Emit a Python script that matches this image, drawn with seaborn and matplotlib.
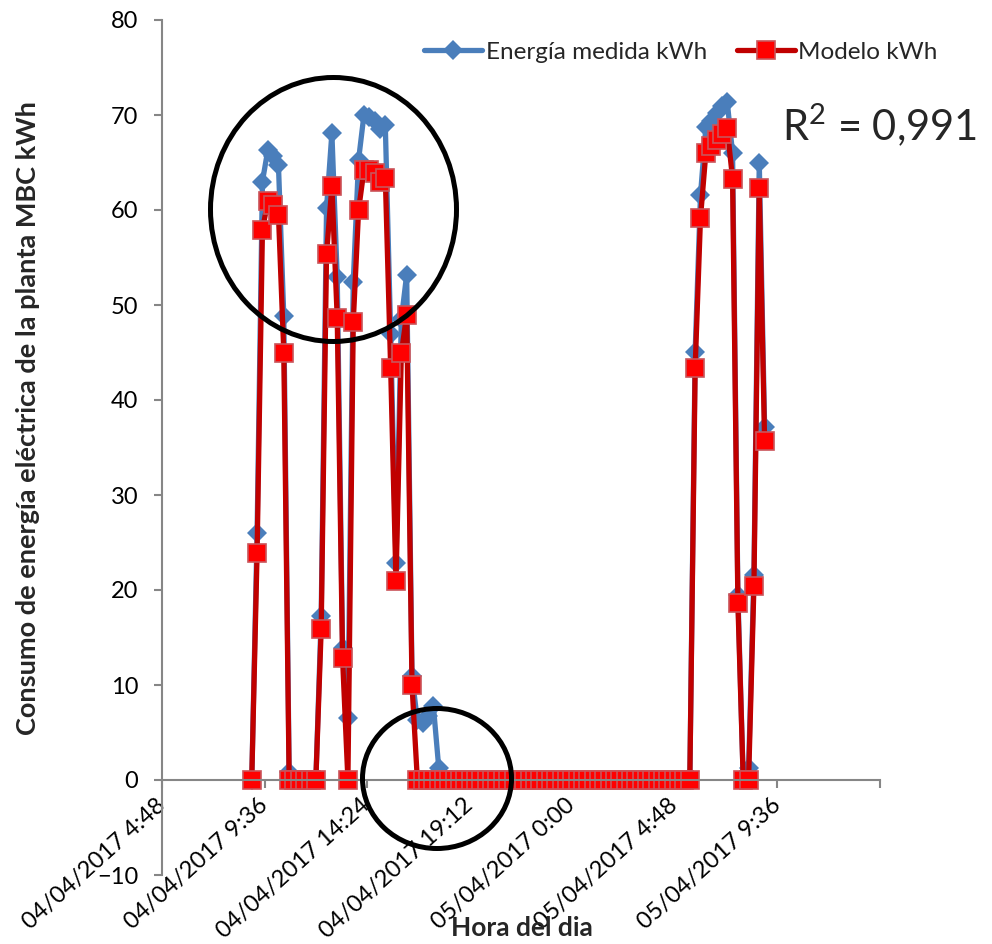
import numpy as np
import pandas as pd
import seaborn as sns
import matplotlib.pyplot as plt
from matplotlib.patches import Ellipse

# readings every 15 minutes starting 04/04/2017 9:00
start = '2017-04-04 09:00'
medida = [0, 26.0, 63.0, 66.3, 65.7, 64.7, 48.8, 0.8, 0, 0,
          0, 0, 0, 17.3, 60.2, 68.1, 52.9, 13.9, 6.5, 52.4,
          65.3, 70.0, 69.8, 69.4, 68.5, 68.9, 47.0, 22.8, 48.5, 53.2,
          10.9, 6.3, 6.0, 6.7, 7.8, 1.3] + [0] * 47 + \
         [45.1, 61.6, 68.7, 69.4, 70.2, 70.9, 71.4, 66.0, 19.5, 0,
          1.3, 21.6, 65.0, 37.2]
modelo = [0, 23.9, 57.9, 60.9, 60.5, 59.5, 45.0, 0, 0, 0,
          0, 0, 0, 15.9, 55.4, 62.5, 48.6, 12.8, 0, 48.2,
          60.0, 64.2, 64.2, 63.9, 63.0, 63.4, 43.4, 20.9, 44.9, 49.0,
          10.0, 0, 0, 0, 0, 0] + [0] * 47 + \
         [43.4, 59.2, 66.0, 66.7, 67.4, 68.0, 68.6, 63.3, 18.6, 0,
          0, 20.4, 62.3, 35.7]

tick_times = ['2017-04-04 04:48', '2017-04-04 09:36', '2017-04-04 14:24',
              '2017-04-04 19:12', '2017-04-05 00:00', '2017-04-05 04:48',
              '2017-04-05 09:36', '2017-04-05 14:24']
tick_labels = ['04/04/2017 4:48', '04/04/2017 9:36', '04/04/2017 14:24',
               '04/04/2017 19:12', '05/04/2017 0:00', '05/04/2017 4:48',
               '05/04/2017 9:36', '']
y_ticks = [-10, 0, 10, 20, 30, 40, 50, 60, 70, 80]

times = pd.date_range(start, periods=len(medida), freq='15min')
df = pd.DataFrame({'Hora': times, 'medida': medida, 'modelo': modelo})

sns.set_theme(style='white')
plt.rcParams['font.family'] = ['Lato', 'DejaVu Sans']
plt.rcParams['mathtext.fontset'] = 'custom'
plt.rcParams['mathtext.rm'] = 'Lato'
plt.rcParams['mathtext.it'] = 'Lato'

W, H = 992, 944
fig = plt.figure(figsize=(W / 100, H / 100), dpi=100)
ax = fig.add_axes([162 / W, 1 - 875 / H, (880 - 162) / W, (875 - 20) / H])

sns.lineplot(data=df, x='Hora', y='medida', ax=ax, color='#4A7EBB', lw=3.8,
             marker='D', markersize=10, markeredgewidth=0,
             label='Energía medida kWh')
sns.lineplot(data=df, x='Hora', y='modelo', ax=ax, color='#C00000', lw=3.8,
             marker='s', markersize=13.5, markerfacecolor='#FF0000',
             markeredgecolor='#C9545A', markeredgewidth=1.2,
             label='Modelo kWh')

sns.despine(ax=ax)
ax.spines['bottom'].set_position(('data', 0))
for s in ['left', 'bottom']:
    ax.spines[s].set_color('#868686')
    ax.spines[s].set_linewidth(1.5)

tt = pd.to_datetime(tick_times)
ax.set_xlim(tt[0], tt[-1])
ax.set_ylim(-10, 80)
ax.set_xticks(tt)
ax.set_xticklabels(tick_labels, rotation=42, ha='right', va='center',
                   rotation_mode='anchor', fontsize=17)
ax.set_yticks(y_ticks)
ax.set_xlabel('')
ax.set_ylabel('')

ax.tick_params(axis='both', bottom=True, left=True, direction='out', length=6,
               width=1.5, color='#868686', labelcolor='black')
ax.tick_params(axis='y', labelsize=17, pad=11)
ax.tick_params(axis='x', pad=10)

ax.legend(ncol=2, frameon=False, loc='center', bbox_to_anchor=(681 / W, 1 - 52 / H),
          bbox_transform=fig.transFigure, fontsize=17.5, handlelength=2.4,
          handletextpad=0.15, columnspacing=1.2)

fig.text(782 / W, 1 - 140 / H, 'R$^2$ = 0,991', fontsize=30, va='baseline')
fig.text(28 / W, 1 - 418 / H, 'Consumo de energía eléctrica de la planta MBC kWh',
         rotation=90, fontsize=19.5, fontweight='bold', ha='center', va='center')
fig.text(522 / W, 1 - 928 / H, 'Hora del dia', fontsize=19, fontweight='bold',
         ha='center', va='center')

# circles highlighting regions
fig.add_artist(Ellipse((333.5 / W, 1 - 209.5 / H), 246 / W, 264 / H,
                       transform=fig.transFigure, fill=False, lw=3.6, ec='black'))
fig.add_artist(Ellipse((437 / W, 1 - 778.5 / H), 149 / W, 140 / H,
                       transform=fig.transFigure, fill=False, lw=3.6, ec='black'))

fig.savefig('out.png', dpi=100)
